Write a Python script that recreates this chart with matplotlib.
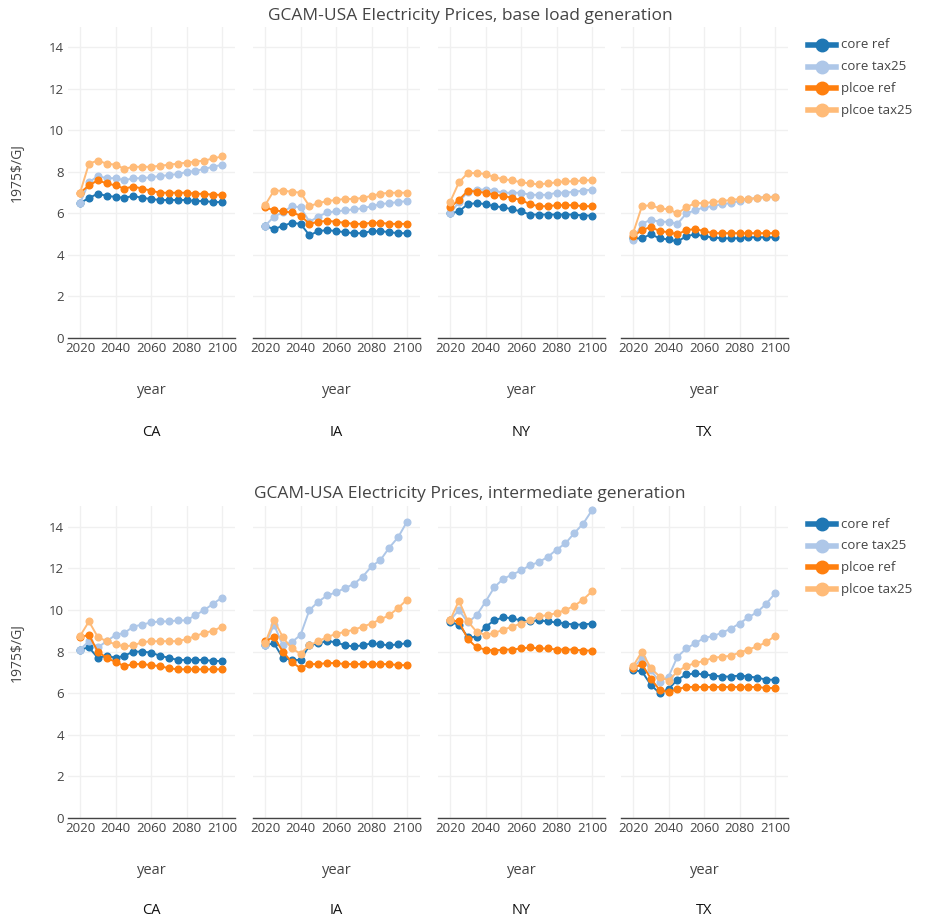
import matplotlib
matplotlib.use("Agg")
import matplotlib.pyplot as plt
from matplotlib.lines import Line2D

plt.rcParams['font.family'] = ['Open Sans', 'DejaVu Sans']

years = list(range(2020, 2101, 5))
states = ["CA", "IA", "NY", "TX"]
series = ["core ref", "core tax25", "plcoe ref", "plcoe tax25"]
colors = ["#1f77b4", "#aec7e8", "#ff7f0e", "#ffbb78"]

# base load generation
base_CA = {
    "core ref":    [6.5, 6.75, 6.95, 6.85, 6.8, 6.75, 6.85, 6.75, 6.7, 6.65, 6.65, 6.65, 6.65, 6.6, 6.6, 6.55, 6.55],
    "core tax25":  [6.5, 7.5, 7.8, 7.7, 7.7, 7.6, 7.7, 7.7, 7.75, 7.8, 7.85, 7.9, 8.0, 8.05, 8.15, 8.25, 8.35],
    "plcoe ref":   [7.0, 7.35, 7.6, 7.45, 7.35, 7.2, 7.3, 7.2, 7.1, 7.0, 7.0, 7.0, 7.0, 6.95, 6.95, 6.9, 6.9],
    "plcoe tax25": [7.0, 8.4, 8.55, 8.4, 8.35, 8.15, 8.25, 8.25, 8.25, 8.3, 8.35, 8.4, 8.45, 8.5, 8.55, 8.65, 8.75],
}
base_IA = {
    "core ref":    [5.4, 5.25, 5.4, 5.55, 5.5, 4.95, 5.15, 5.2, 5.15, 5.1, 5.05, 5.05, 5.15, 5.15, 5.1, 5.05, 5.05],
    "core tax25":  [5.4, 5.85, 6.05, 6.35, 6.3, 5.6, 5.85, 6.05, 6.1, 6.15, 6.2, 6.25, 6.35, 6.45, 6.5, 6.55, 6.6],
    "plcoe ref":   [6.3, 6.15, 6.1, 6.05, 5.9, 5.5, 5.6, 5.65, 5.6, 5.55, 5.5, 5.5, 5.55, 5.55, 5.5, 5.5, 5.5],
    "plcoe tax25": [6.4, 7.1, 7.1, 7.05, 7.0, 6.35, 6.5, 6.6, 6.65, 6.7, 6.7, 6.75, 6.85, 6.95, 7.0, 7.0, 7.0],
}
base_NY = {
    "core ref":    [6.0, 6.1, 6.45, 6.5, 6.45, 6.35, 6.3, 6.2, 6.1, 5.95, 5.95, 5.95, 5.95, 5.95, 5.95, 5.9, 5.9],
    "core tax25":  [6.0, 6.55, 7.05, 7.15, 7.15, 7.1, 7.0, 7.0, 7.0, 6.9, 6.9, 6.9, 7.0, 7.0, 7.05, 7.1, 7.15],
    "plcoe ref":   [6.3, 6.65, 7.1, 7.05, 7.0, 6.9, 6.85, 6.75, 6.65, 6.45, 6.35, 6.35, 6.4, 6.4, 6.4, 6.35, 6.35],
    "plcoe tax25": [6.55, 7.5, 7.95, 7.95, 7.9, 7.75, 7.65, 7.6, 7.5, 7.45, 7.4, 7.45, 7.5, 7.55, 7.55, 7.6, 7.6],
}
base_TX = {
    "core ref":    [4.8, 4.8, 5.0, 4.8, 4.75, 4.65, 4.9, 5.0, 4.9, 4.85, 4.8, 4.8, 4.8, 4.85, 4.85, 4.85, 4.85],
    "core tax25":  [4.7, 5.5, 5.7, 5.6, 5.6, 5.5, 6.0, 6.15, 6.3, 6.35, 6.45, 6.5, 6.6, 6.7, 6.75, 6.8, 6.8],
    "plcoe ref":   [4.9, 5.2, 5.35, 5.15, 5.1, 5.0, 5.2, 5.25, 5.15, 5.05, 5.05, 5.05, 5.05, 5.05, 5.05, 5.05, 5.05],
    "plcoe tax25": [5.05, 6.35, 6.4, 6.25, 6.2, 6.0, 6.3, 6.5, 6.5, 6.55, 6.6, 6.65, 6.7, 6.7, 6.75, 6.8, 6.8],
}

# intermediate generation
inter_CA = {
    "core ref":    [8.1, 8.2, 7.7, 7.8, 7.7, 7.8, 8.0, 8.0, 7.95, 7.8, 7.7, 7.6, 7.6, 7.6, 7.6, 7.55, 7.55],
    "core tax25":  [8.1, 8.5, 8.2, 8.5, 8.8, 8.9, 9.2, 9.3, 9.4, 9.45, 9.45, 9.5, 9.5, 9.75, 10.0, 10.3, 10.6],
    "plcoe ref":   [8.7, 8.8, 8.0, 7.7, 7.5, 7.3, 7.4, 7.4, 7.35, 7.3, 7.2, 7.15, 7.15, 7.15, 7.15, 7.15, 7.15],
    "plcoe tax25": [8.75, 9.45, 8.7, 8.5, 8.35, 8.25, 8.3, 8.45, 8.5, 8.5, 8.5, 8.5, 8.6, 8.75, 8.9, 9.0, 9.2],
}
inter_IA = {
    "core ref":    [8.3, 8.4, 7.7, 7.6, 7.6, 8.3, 8.4, 8.5, 8.45, 8.3, 8.25, 8.3, 8.4, 8.35, 8.3, 8.35, 8.4],
    "core tax25":  [8.3, 9.3, 8.3, 8.45, 8.8, 10.0, 10.4, 10.7, 10.85, 11.05, 11.25, 11.6, 12.1, 12.4, 13.0, 13.5, 14.25],
    "plcoe ref":   [8.5, 8.7, 8.0, 7.5, 7.2, 7.4, 7.4, 7.45, 7.45, 7.4, 7.4, 7.4, 7.4, 7.4, 7.4, 7.35, 7.35],
    "plcoe tax25": [8.4, 9.5, 8.7, 8.15, 7.9, 8.3, 8.5, 8.7, 8.85, 8.95, 9.05, 9.2, 9.35, 9.55, 9.75, 10.1, 10.5],
}
inter_NY = {
    "core ref":    [9.4, 9.3, 8.7, 8.7, 9.2, 9.5, 9.65, 9.6, 9.5, 9.45, 9.5, 9.45, 9.4, 9.35, 9.3, 9.3, 9.35],
    "core tax25":  [9.5, 10.0, 9.4, 9.75, 10.4, 11.1, 11.5, 11.7, 11.9, 12.15, 12.3, 12.55, 12.9, 13.2, 13.7, 14.15, 14.8],
    "plcoe ref":   [9.5, 9.45, 8.6, 8.2, 8.1, 8.05, 8.1, 8.1, 8.15, 8.2, 8.15, 8.15, 8.1, 8.1, 8.1, 8.05, 8.05],
    "plcoe tax25": [9.5, 10.45, 9.45, 8.95, 8.8, 8.9, 9.05, 9.2, 9.35, 9.5, 9.7, 9.75, 9.85, 10.0, 10.2, 10.5, 10.9],
}
inter_TX = {
    "core ref":    [7.1, 7.05, 6.4, 6.0, 6.2, 6.65, 6.9, 6.95, 6.9, 6.85, 6.8, 6.8, 6.85, 6.8, 6.75, 6.65, 6.65],
    "core tax25":  [7.2, 7.7, 7.1, 6.55, 6.8, 7.75, 8.15, 8.4, 8.65, 8.75, 8.9, 9.1, 9.35, 9.65, 9.9, 10.3, 10.8],
    "plcoe ref":   [7.2, 7.4, 6.7, 6.15, 6.05, 6.2, 6.3, 6.3, 6.3, 6.3, 6.3, 6.3, 6.3, 6.3, 6.3, 6.25, 6.25],
    "plcoe tax25": [7.3, 8.0, 7.2, 6.8, 6.6, 7.05, 7.3, 7.45, 7.55, 7.7, 7.75, 7.8, 7.95, 8.1, 8.25, 8.45, 8.75],
}

rows = [
    ("GCAM-USA Electricity Prices, base load generation", [base_CA, base_IA, base_NY, base_TX]),
    ("GCAM-USA Electricity Prices, intermediate generation", [inter_CA, inter_IA, inter_NY, inter_TX]),
]

W, H = 925, 919
fig = plt.figure(figsize=(W / 100, H / 100), dpi=100)

txt = "#444444"
lefts = [68, 253, 438, 621]
pw = 167
# (top px, bottom px) of the plot areas, plus title / label positions
row_geom = [
    dict(top=26.7, bot=338, title=16, xlab=391, state=432, leg=45),
    dict(top=506, bot=818, title=494, xlab=870, state=910, leg=524),
]

for (title, datasets), g in zip(rows, row_geom):
    for i, (st, data) in enumerate(zip(states, datasets)):
        ax = fig.add_axes([lefts[i] / W, 1 - g["bot"] / H, pw / W, (g["bot"] - g["top"]) / H])
        for s, c in zip(series, colors):
            ax.plot(years, data[s], color=c, lw=1.4, marker="o", ms=4.8, mec=c, zorder=3)
        ax.set_xlim(2013.2, 2107.3)
        ax.set_ylim(0, 15)
        ax.set_xticks([2020, 2040, 2060, 2080, 2100])
        ax.set_yticks(range(0, 15, 2))
        ax.grid(True, color="#f0f0f0", lw=1)
        ax.set_axisbelow(True)
        for sp in ["top", "right", "left"]:
            ax.spines[sp].set_visible(False)
        ax.spines["bottom"].set_color("#444444")
        ax.spines["bottom"].set_linewidth(1)
        ax.tick_params(length=0, labelsize=9.5, labelcolor=txt, pad=3)
        if i > 0:
            ax.set_yticklabels([])
        cx = (lefts[i] + pw / 2) / W
        fig.text(cx, 1 - g["xlab"] / H, "year", ha="center", va="center", fontsize=10.5, color=txt)
        fig.text(cx, 1 - g["state"] / H, st, ha="center", va="center", fontsize=10.5, color="#111111")

    fig.text(470 / W, 1 - g["title"] / H, title, ha="center", va="center", fontsize=12.5, color=txt)
    fig.text(17 / W, 1 - ((g["top"] + g["bot"]) / 2 - 10) / H, "1975$/GJ", rotation=90,
             ha="center", va="center", fontsize=10, color=txt)

    # legend
    for k, (s, c) in enumerate(zip(series, colors)):
        y = 1 - (g["leg"] + 21.7 * k) / H
        fig.add_artist(Line2D([808 / W, 836 / W], [y, y], color=c, lw=4))
        fig.add_artist(Line2D([822 / W], [y], color=c, marker="o", ms=9, mec=c))
        fig.text(841 / W, y, s, ha="left", va="center", fontsize=9.5, color=txt)

fig.savefig("out.png", dpi=100, facecolor="white")
